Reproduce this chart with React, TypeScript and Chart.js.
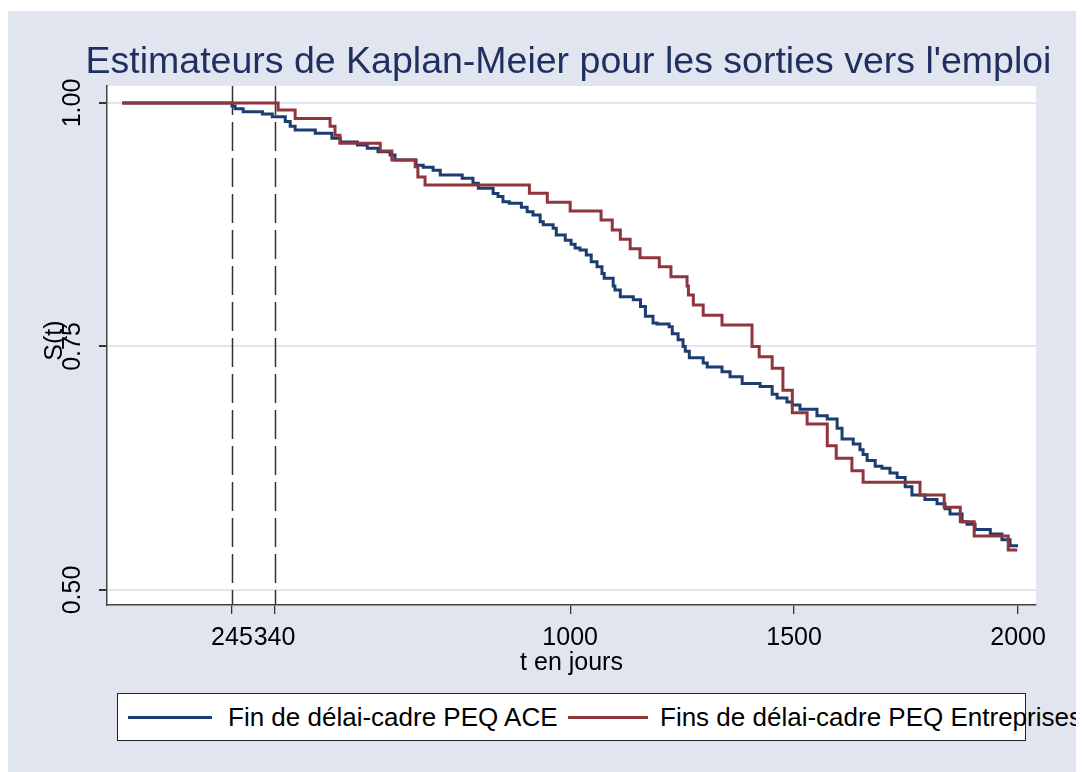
import React, { useEffect, useRef } from "react";
import { Chart, registerables } from "chart.js";

Chart.register(...registerables);

// ---- Data ----
const aceTimes = [
  0, 245, 252, 270, 313, 335, 364, 375, 386, 431,
  468, 487, 525, 547, 571, 598, 609, 656, 672, 694,
  710, 759, 783, 795, 828, 839, 850, 864, 891, 904,
  917, 933, 940, 962, 969, 989, 1002, 1011, 1022, 1036,
  1047, 1060, 1071, 1076, 1096, 1100, 1112, 1141, 1157, 1168,
  1185, 1194, 1221, 1228, 1241, 1252, 1257, 1266, 1297, 1306,
  1339, 1357, 1384, 1424, 1451, 1462, 1484, 1496, 1513, 1551,
  1574, 1596, 1607, 1632, 1647, 1654, 1663, 1681, 1696, 1714,
  1730, 1748, 1763, 1792, 1819, 1837, 1848, 1875, 1886, 1904,
  1938, 1964, 1982, 2000,
];
const aceSurv = [
  1, 0.997, 0.994, 0.991, 0.9887, 0.986, 0.981, 0.976, 0.9723, 0.969,
  0.9637, 0.96, 0.957, 0.9535, 0.95, 0.9466, 0.9415, 0.936, 0.934, 0.931,
  0.926, 0.9227, 0.9176, 0.9124, 0.907, 0.904, 0.8987, 0.897, 0.893, 0.8884,
  0.885, 0.878, 0.875, 0.8713, 0.8645, 0.859, 0.855, 0.851, 0.849, 0.844,
  0.837, 0.832, 0.825, 0.82, 0.812, 0.808, 0.801, 0.798, 0.791, 0.781,
  0.774, 0.773, 0.7703, 0.763, 0.757, 0.75, 0.745, 0.7385, 0.733, 0.729,
  0.724, 0.719, 0.712, 0.709, 0.701, 0.697, 0.693, 0.69, 0.6855, 0.679,
  0.6755, 0.666, 0.655, 0.65, 0.644, 0.639, 0.633, 0.627, 0.625, 0.62,
  0.6155, 0.606, 0.5975, 0.593, 0.5885, 0.5835, 0.578, 0.57, 0.5675, 0.562,
  0.5575, 0.5515, 0.5455, 0.5455,
];

const entTimes = [
  0, 348, 386, 464, 475, 486, 576, 602, 654, 660,
  676, 909, 949, 1000, 1069, 1094, 1112, 1134, 1156, 1199,
  1225, 1261, 1264, 1275, 1297, 1339, 1406, 1422, 1451, 1475,
  1496, 1529, 1574, 1594, 1629, 1654, 1781, 1835, 1871, 1902,
  1978, 1998,
];
const entSurv = [
  1, 0.9928, 0.984, 0.976, 0.967, 0.9586, 0.9507, 0.9415, 0.9346, 0.924,
  0.9158, 0.9073, 0.898, 0.889, 0.88, 0.8696, 0.86, 0.8504, 0.841, 0.832,
  0.8217, 0.812, 0.803, 0.7926, 0.782, 0.772, 0.75, 0.7396, 0.7276, 0.705,
  0.682, 0.6704, 0.6482, 0.6352, 0.6225, 0.6106, 0.5975, 0.5849, 0.57, 0.5555,
  0.541, 0.541,
];

const seriesLabels = ["Fin de délai-cadre PEQ ACE", "Fins de délai-cadre PEQ Entreprises"];
const xTickValues = [245, 340, 1000, 1500, 2000];
const xTickLabels = ["245", "340", "1000", "1500", "2000"];
const yTickValues = [0.5, 0.75, 1.0];
const yTickLabels = ["0.50", "0.75", "1.00"];
const refLines = [245, 340];
const chartTitle = "Estimateurs de Kaplan-Meier pour les sorties vers l'emploi";
const xTitle = "t en jours";
const yTitle = "S(t)";

// ---- Styles ----
const BG = "#E1E5F0";
const BLUE = "#1c3d72";
const RED = "#90353b";
const NAVY = "#1f2f5f";
const FONT = 'Arial, "Liberation Sans", sans-serif';

export default function App() {
  const canvasRef = useRef<HTMLCanvasElement | null>(null);

  useEffect(() => {
    const canvas = canvasRef.current;
    if (!canvas) return;

    const bgPlugin = {
      id: "plotBg",
      beforeDraw(chart: any) {
        const { ctx, chartArea } = chart;
        ctx.save();
        ctx.fillStyle = "#ffffff";
        ctx.fillRect(chartArea.left, chartArea.top, chartArea.right - chartArea.left, chartArea.bottom - chartArea.top);
        ctx.restore();
      },
      beforeDatasetsDraw(chart: any) {
        const { ctx, chartArea, scales } = chart;
        ctx.save();
        ctx.strokeStyle = "#333333";
        ctx.lineWidth = 1.5;
        ctx.setLineDash([29, 7]);
        refLines.forEach((v) => {
          const px = Math.round(scales.x.getPixelForValue(v)) + 0.5;
          ctx.beginPath();
          ctx.moveTo(px, chartArea.top);
          ctx.lineTo(px, chartArea.bottom);
          ctx.stroke();
        });
        ctx.restore();
      },
      afterDraw(chart: any) {
        const { ctx, chartArea, scales } = chart;
        ctx.save();
        // chart title, centred over the plot region
        ctx.fillStyle = NAVY;
        ctx.font = `37.5px ${FONT}`;
        ctx.textAlign = "center";
        ctx.textBaseline = "alphabetic";
        ctx.fillText(chartTitle, (chartArea.left + chartArea.right) / 2 - 3, 62);
        // rotated y tick labels and axis title
        ctx.fillStyle = "#000000";
        ctx.font = `25px ${FONT}`;
        yTickValues.forEach((v, i) => {
          const py = scales.y.getPixelForValue(v);
          ctx.save();
          ctx.translate(72, py);
          ctx.rotate(-Math.PI / 2);
          ctx.fillText(yTickLabels[i], 0, 0);
          ctx.restore();
        });
        ctx.save();
        ctx.translate(54, (chartArea.top + chartArea.bottom) / 2 - 5);
        ctx.rotate(-Math.PI / 2);
        ctx.fillText(yTitle, 0, 0);
        ctx.restore();
        ctx.restore();
      },
    };

    const chart = new Chart(canvas, {
      type: "line",
      data: {
        datasets: [
          {
            label: seriesLabels[0],
            data: aceTimes.map((t, i) => ({ x: t, y: aceSurv[i] })),
            borderColor: BLUE,
            borderWidth: 3,
            pointRadius: 0,
            stepped: true,
            fill: false,
            order: 1,
          },
          {
            label: seriesLabels[1],
            data: entTimes.map((t, i) => ({ x: t, y: entSurv[i] })),
            borderColor: RED,
            borderWidth: 3,
            pointRadius: 0,
            stepped: true,
            fill: false,
            order: 0,
          },
        ],
      },
      options: {
        responsive: false,
        animation: false,
        devicePixelRatio: 1,
        layout: { padding: { left: 0, right: 41, top: 75, bottom: 0 } },
        plugins: {
          legend: { display: false },
          tooltip: { enabled: false },
          title: { display: false },
        },
        scales: {
          x: {
            type: "linear",
            min: -34,
            max: 2040,
            afterBuildTicks: (scale: any) => {
              scale.ticks = xTickValues.map((v) => ({ value: v }));
            },
            afterFit: (scale: any) => {
              scale.height = 86;
            },
            ticks: {
              autoSkip: false,
              maxRotation: 0,
              minRotation: 0,
              padding: 9,
              color: "#000000",
              font: { family: FONT, size: 25 },
              callback: (value: any) => {
                const i = xTickValues.indexOf(Number(value));
                return i >= 0 ? xTickLabels[i] : "";
              },
            },
            grid: {
              drawOnChartArea: false,
              drawTicks: true,
              tickLength: 9,
              tickColor: "#333333",
              lineWidth: 1.3,
            },
            border: { display: true, color: "#444444", width: 1.5 },
            title: {
              display: true,
              text: xTitle,
              color: "#000000",
              font: { family: FONT, size: 25 },
              padding: { top: 0, bottom: 13 },
            },
          },
          y: {
            type: "linear",
            min: 0.4846,
            max: 1.01745,
            afterBuildTicks: (scale: any) => {
              scale.ticks = yTickValues.map((v) => ({ value: v }));
            },
            afterFit: (scale: any) => {
              scale.width = 99;
            },
            ticks: { display: false },
            grid: {
              color: BG,
              lineWidth: 2,
              drawTicks: true,
              tickLength: 8,
              tickColor: "#333333",
            },
            border: { display: true, color: "#444444", width: 1.5 },
          },
        },
      },
      plugins: [bgPlugin],
    } as any);

    return () => chart.destroy();
  }, []);

  const legendItem = (left: number, width: number, color: string) => (
    <div
      style={{
        position: "absolute",
        left,
        top: 22,
        width,
        height: 3,
        background: color,
      }}
    />
  );

  return (
    <div
      style={{
        position: "relative",
        top: 3,
        width: 1069,
        height: 770,
        background: BG,
        fontFamily: FONT,
      }}
    >
      <canvas
        ref={canvasRef}
        width={1069}
        height={680}
        style={{ position: "absolute", left: 0, top: 0, width: 1069, height: 680 }}
      />
      <div
        style={{
          position: "absolute",
          left: 109,
          top: 682,
          width: 907,
          height: 46,
          background: "#ffffff",
          border: "1.5px solid #222222",
          overflow: "visible",
        }}
      >
        {legendItem(10, 84, BLUE)}
        <div
          style={{
            position: "absolute",
            left: 110,
            top: 8,
            fontSize: 26,
            lineHeight: "30px",
            whiteSpace: "nowrap",
            color: "#000",
          }}
        >
          {seriesLabels[0]}
        </div>
        {legendItem(450, 80, RED)}
        <div
          style={{
            position: "absolute",
            left: 542,
            top: 8,
            fontSize: 26,
            lineHeight: "30px",
            whiteSpace: "nowrap",
            color: "#000",
          }}
        >
          {seriesLabels[1]}
        </div>
      </div>
    </div>
  );
}
